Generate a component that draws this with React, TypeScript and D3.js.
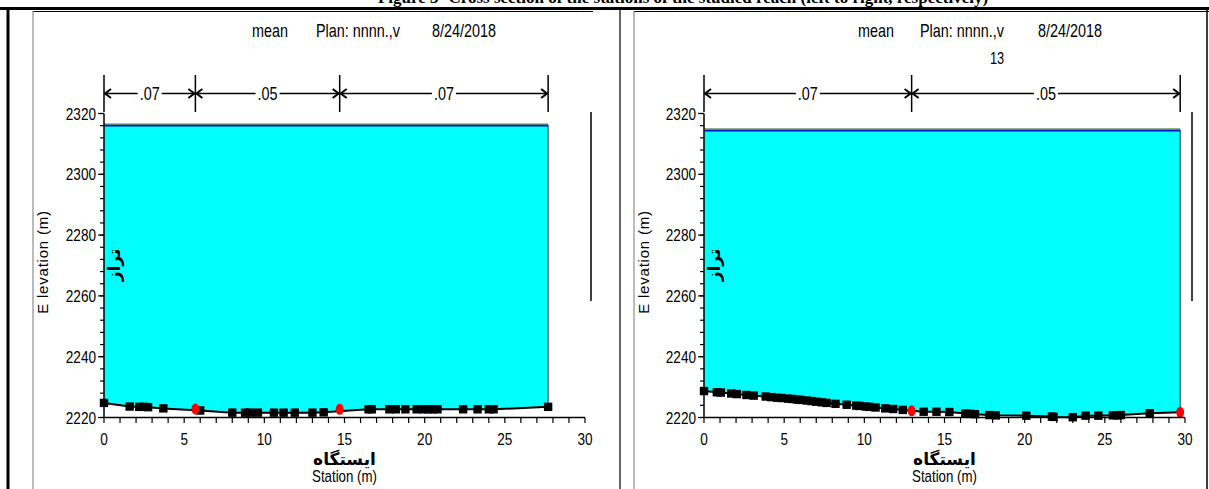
import React from "react";
import * as d3 from "d3";

// ---------- DATA ----------
const xTickLabels = [0, 5, 10, 15, 20, 25, 30];
const yTickLabels = [2220, 2240, 2260, 2280, 2300, 2320];

// Left cross-section
const leftStations = [0, 1.6, 2.2, 2.5, 2.75, 3.7, 6.0, 8.0, 8.8, 9.1, 9.6, 10.6, 11.2, 11.9, 13.0, 13.7, 16.5, 16.7, 17.8, 18.2, 18.8, 19.5, 19.9, 20.2, 20.5, 20.8, 22.4, 23.3, 24.0, 24.3, 27.7];
const leftElev = [2224.8, 2223.6, 2223.5, 2223.5, 2223.4, 2223.0, 2222.3, 2221.6, 2221.6, 2221.6, 2221.6, 2221.6, 2221.6, 2221.6, 2221.6, 2221.7, 2222.7, 2222.7, 2222.7, 2222.7, 2222.7, 2222.7, 2222.7, 2222.7, 2222.7, 2222.7, 2222.7, 2222.7, 2222.7, 2222.7, 2223.5];
const leftBankStations = [5.7, 14.7];
const leftBankElev = [2222.8, 2222.7];
const leftWS = 2316.2;
const leftNBreaks = [0, 5.7, 14.7, 27.7];
const leftNValues = [".07", ".05", ".07"];

// Right cross-section
const rightStations = [0, 0.8, 1.05, 1.7, 2.05, 2.65, 3.1, 3.85, 4.2, 4.55, 4.85, 5.25, 5.5, 5.8, 6.0, 6.4, 6.7, 7.0, 7.35, 7.65, 8.2, 8.9, 9.5, 9.7, 10.1, 10.3, 10.7, 11.3, 11.8, 12.4, 13.7, 14.5, 15.3, 16.3, 16.6, 16.9, 17.8, 18.2, 20.1, 21.7, 21.8, 23.0, 23.8, 24.6, 25.5, 25.8, 26.0, 27.8, 29.7];
const rightElev = [2228.7, 2228.3, 2228.2, 2227.9, 2227.7, 2227.4, 2227.2, 2226.9, 2226.7, 2226.5, 2226.4, 2226.2, 2226.1, 2225.9, 2225.8, 2225.6, 2225.4, 2225.2, 2225.0, 2224.8, 2224.5, 2224.2, 2223.9, 2223.8, 2223.6, 2223.5, 2223.3, 2223.0, 2222.8, 2222.5, 2221.9, 2221.9, 2221.8, 2221.3, 2221.2, 2221.1, 2220.8, 2220.7, 2220.6, 2220.3, 2220.2, 2220.1, 2220.6, 2220.6, 2220.7, 2220.7, 2220.8, 2221.4, 2221.7];
const rightBankStations = [12.95, 29.7];
const rightBankElev = [2222.2, 2221.7];
const rightWS = 2314.6;
const rightNBreaks = [0, 12.95, 29.7];
const rightNValues = [".07", ".05"];

const titleParts = ["mean", "Plan: nnnn.,v", "8/24/2018"];

const SANS = "'Liberation Sans', Arial, sans-serif";
const PERSIAN = "'DejaVu Sans', 'Noto Sans', sans-serif";

function NText(props: { x: number; y: number; size: number; anchor?: string; sx?: number; children: any }) {
  const sx = props.sx ?? 0.8;
  return (
    <text transform={`translate(${props.x},${props.y}) scale(${sx},1)`} fontFamily={SANS}
      fontSize={props.size} textAnchor={props.anchor || "start"}>{props.children}</text>
  );
}

type PanelProps = {
  x0: number; x1: number;
  stations: number[]; elev: number[];
  bankS: number[]; bankE: number[];
  ws: number; nBreaks: number[]; nValues: string[];
  titleX: number[]; subtitle?: string; subtitleX?: number;
  gridLineX: number; legendX: number;
};

function Panel(p: PanelProps) {
  const x = d3.scaleLinear().domain([0, 30]).range([p.x0, p.x1]);
  const y = d3.scaleLinear().domain([2220, 2320]).range([417.5, 113.5]);
  const pts: [number, number][] = p.stations.map((s, i) => [s, p.elev[i]]);
  const groundLine = d3.line<[number, number]>().x(d => x(d[0])).y(d => y(d[1]));
  const last = pts[pts.length - 1];
  const fillPts: [number, number][] = [[0, p.ws], [last[0], p.ws], ...pts.slice().reverse()];
  const fill = d3.line<[number, number]>().x(d => x(d[0])).y(d => y(d[1]))(fillPts) + "Z";
  const xMinor = d3.range(0, 31, 1);
  const yMinor = d3.range(2220, 2321, 4);
  const yAx = y(2220);
  const nTop = 75, nBot = 112, nY = 93.5;
  const squares = pts.filter(d => !p.bankS.some(b => Math.abs(b - d[0]) < 0.05));
  return (
    <g>
      {/* title */}
      {titleParts.map((t, i) => (
        <NText key={i} x={p.titleX[i]} y={37} size={18} sx={0.8}>{t}</NText>
      ))}
      {p.subtitle && (
        <NText x={p.subtitleX as number} y={64} size={16} anchor="middle">{p.subtitle}</NText>
      )}
      {/* gray inner frame line */}
      <line x1={p.gridLineX} x2={p.gridLineX} y1={11} y2={489} stroke="#777" strokeWidth={1} />
      {/* water fill */}
      <path d={fill} fill="#00FFFF" stroke="none" />
      <line x1={x(last[0])} x2={x(last[0])} y1={y(p.ws)} y2={y(last[1])} stroke="#333" strokeWidth={1} />
      {/* water surface */}
      <line x1={x(0)} x2={x(last[0])} y1={y(p.ws) + 0.5} y2={y(p.ws) + 0.5} stroke="#1010C0" strokeWidth={2} />
      <line x1={x(0)} x2={x(last[0])} y1={y(p.ws) - 1} y2={y(p.ws) - 1} stroke="#2E7D32" strokeWidth={1} />
      {/* ground */}
      <path d={groundLine(pts) || ""} fill="none" stroke="#000" strokeWidth={2} />
      {squares.map((d, i) => (
        <rect key={i} x={x(d[0]) - 4.2} y={y(d[1]) - 4.2} width={8.4} height={8.4} fill="#000" />
      ))}
      {p.bankS.map((s, i) => (
        <ellipse key={i} cx={x(s)} cy={y(p.bankE[i])} rx={4} ry={5.5} fill="#FF0000" />
      ))}
      {/* axes */}
      <line x1={x(0)} x2={x(30)} y1={yAx} y2={yAx} stroke="#000" strokeWidth={1.5} />
      <line x1={x(0)} x2={x(0)} y1={y(2320)} y2={yAx} stroke="#000" strokeWidth={1.5} />
      {xMinor.map(v => (
        <line key={v} x1={x(v)} x2={x(v)} y1={yAx} y2={yAx + 5.5} stroke="#000" strokeWidth={1.2} />
      ))}
      {yMinor.map(v => (
        <line key={v} x1={x(0) - 4} x2={x(0)} y1={y(v)} y2={y(v)} stroke="#000" strokeWidth={1.2} />
      ))}
      {yTickLabels.map(v => (
        <line key={"m" + v} x1={x(0) - 6} x2={x(0)} y1={y(v)} y2={y(v)} stroke="#000" strokeWidth={1.2} />
      ))}
      {xTickLabels.map(v => (
        <NText key={v} x={x(v)} y={445} size={17} anchor="middle">{v}</NText>
      ))}
      {yTickLabels.map(v => (
        <NText key={v} x={x(0) - 8} y={y(v) + 6} size={17} anchor="end">{v}</NText>
      ))}
      {/* axis titles */}
      <text transform={`translate(${p.gridLineX + 15},${262}) rotate(-90)`} fontFamily={SANS} fontSize={15} letterSpacing={0.8} textAnchor="middle">E levation (m)</text>
      <text transform={`translate(${x(0) + 16},${265}) rotate(-90)`} fontFamily={PERSIAN} fontWeight="bold" fontSize={17} textAnchor="middle" direction="rtl">تراز</text>
      <text x={x(15)} y={465} fontFamily={PERSIAN} fontWeight="bold" fontSize={17} textAnchor="middle" direction="rtl">ایستگاه</text>
      <NText x={x(15)} y={482} size={16} sx={0.83} anchor="middle">Station (m)</NText>
      {/* n-value markers */}
      {p.nBreaks.map((s, i) => (
        <line key={i} x1={x(s)} x2={x(s)} y1={nTop} y2={nBot} stroke="#000" strokeWidth={1.5} />
      ))}
      {p.nValues.map((v, i) => {
        const a = x(p.nBreaks[i]);
        const b = x(p.nBreaks[i + 1]);
        const c = (a + b) / 2;
        return (
          <g key={i}>
            <line x1={a} x2={b} y1={nY} y2={nY} stroke="#000" strokeWidth={1.5} />
            <path d={`M${a + 7},${nY - 4.5} L${a + 1},${nY} L${a + 7},${nY + 4.5}`} fill="none" stroke="#000" strokeWidth={2} />
            <path d={`M${b - 7},${nY - 4.5} L${b - 1},${nY} L${b - 7},${nY + 4.5}`} fill="none" stroke="#000" strokeWidth={2} />
            <rect x={c - 12} y={nY - 10} width={24} height={20} fill="#fff" />
            <NText x={c} y={nY + 6.5} size={18} anchor="middle">{v}</NText>
          </g>
        );
      })}
      {/* legend remnant line */}
      <line x1={p.legendX} x2={p.legendX} y1={112} y2={301} stroke="#000" strokeWidth={1.5} />
    </g>
  );
}

export default function App() {
  return (
    <svg width={1209} height={489} style={{ position: "absolute", left: 0, top: 0, background: "#fff" }}>
      <rect width={1209} height={489} fill="#fff" />
      {/* caption, cut off by the page top as in the source */}
      <text x={683} y={2.5} fontFamily="'Liberation Serif', 'Times New Roman', serif" fontWeight="bold" fontSize={17} textAnchor="middle">Figure 3- Cross section of the stations of the studied reach (left to right, respectively)</text>
      {/* table frame */}
      <line x1={0} x2={1209} y1={8.5} y2={8.5} stroke="#000" strokeWidth={3} />
      <line x1={33} x2={593} y1={11.5} y2={11.5} stroke="#000" strokeWidth={1} />
      <line x1={634} x2={1209} y1={11.5} y2={11.5} stroke="#000" strokeWidth={1} />
      <line x1={8} x2={8} y1={7} y2={489} stroke="#000" strokeWidth={3} />
      <line x1={620} x2={620} y1={7} y2={489} stroke="#000" strokeWidth={1.2} />
      <line x1={1207} x2={1207} y1={7} y2={489} stroke="#000" strokeWidth={1.5} />
      <Panel x0={104} x1={585} stations={leftStations} elev={leftElev} bankS={leftBankStations} bankE={leftBankElev}
        ws={leftWS} nBreaks={leftNBreaks} nValues={leftNValues} titleX={[252, 316, 432]} gridLineX={33} legendX={591} />
      <Panel x0={704} x1={1185} stations={rightStations} elev={rightElev} bankS={rightBankStations} bankE={rightBankElev}
        ws={rightWS} nBreaks={rightNBreaks} nValues={rightNValues} titleX={[858, 920, 1038]} subtitle="13" subtitleX={997}
        gridLineX={634} legendX={1192} />
    </svg>
  );
}
